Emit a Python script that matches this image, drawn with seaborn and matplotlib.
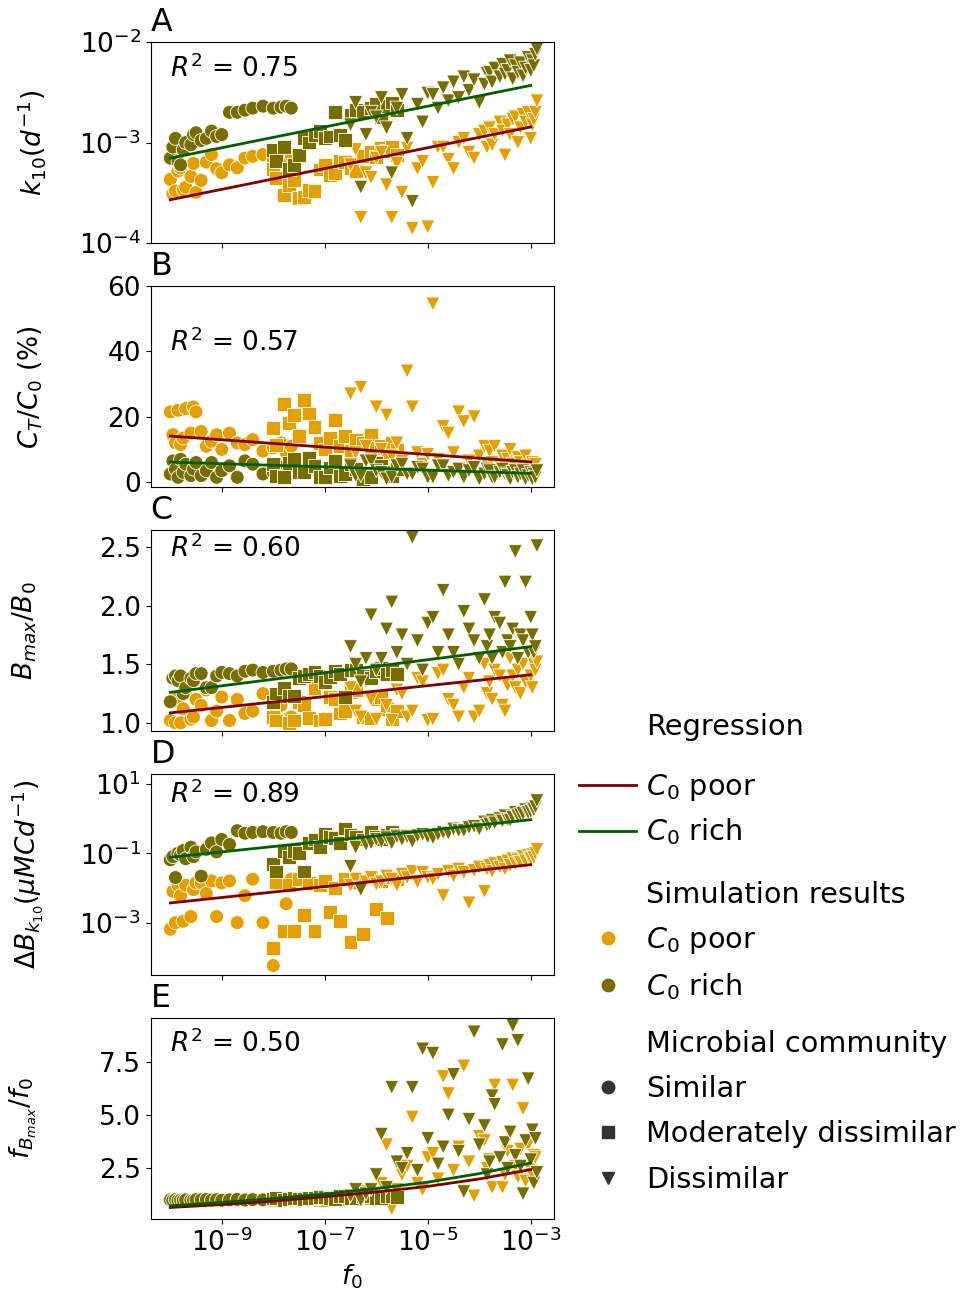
import numpy as np
import pandas as pd
import seaborn as sns
import matplotlib.pyplot as plt
from matplotlib.lines import Line2D
from matplotlib.ticker import NullLocator

POOR_COLOR = '#E69F00'
RICH_COLOR = '#786E00'
REG_POOR_COLOR = '#800000'
REG_RICH_COLOR = '#006000'
MARKERS = {'Similar': 'o', 'Moderately dissimilar': 's', 'Dissimilar': 'v'}

# log10(f0) of the simulations, grouped by microbial community
f0_exp_similar = [-10.0, -9.95, -9.9, -9.85, -9.8, -9.75, -9.7, -9.6, -9.55, -9.5, -9.4, -9.3,
                  -9.2, -9.1, -9.0, -8.85, -8.7, -8.55, -8.4, -8.2, -8.0, -7.85, -7.75, -7.65]
f0_exp_moderate = [-8.0, -7.95, -7.8, -7.7, -7.6, -7.5, -7.4, -7.3, -7.2, -7.1, -7.0, -6.9,
                   -6.8, -6.7, -6.6, -6.5, -6.4, -6.25, -6.1, -6.0, -5.9, -5.8, -5.7, -5.6]
f0_exp_dissimilar = [-6.5, -6.4, -6.3, -6.2, -6.1, -6.0, -5.9, -5.8, -5.7, -5.6, -5.5, -5.4,
                     -5.3, -5.2, -5.1, -5.0, -4.9, -4.8, -4.7, -4.6, -4.5, -4.4, -4.3, -4.2,
                     -4.1, -4.0, -3.9, -3.85, -3.8, -3.75, -3.7, -3.6, -3.55, -3.5, -3.45, -3.4,
                     -3.35, -3.3, -3.25, -3.2, -3.15, -3.1, -3.05, -3.0, -2.97, -2.94, -2.91, -2.88]

# panel A: k10 (1/d); order = similar (24), moderately dissimilar (24), dissimilar (48)
k10_poor = [4.3e-4, 3.1e-4, 3.3e-4, 5.2e-4, 5.6e-4, 3.4e-4, 3.6e-4, 4.6e-4, 6.2e-4, 3.2e-4, 4.2e-4, 6.4e-4,
            7.6e-4, 5.5e-4, 5.0e-4, 6.0e-4, 5.6e-4, 7.0e-4, 7.3e-4, 7.6e-4, 6.8e-4, 7.2e-4, 7.0e-4, 7.4e-4,
            5.5e-4, 4.4e-4, 3.0e-4, 3.8e-4, 4.2e-4, 2.8e-4, 2.9e-4, 3.4e-4, 3.3e-4, 5.4e-4, 6.0e-4, 4.8e-4,
            5.0e-4, 6.6e-4, 6.4e-4, 5.6e-4, 5.2e-4, 7.4e-4, 8.0e-4, 7.2e-4, 8.8e-4, 8.2e-4, 9.0e-4, 7.5e-4,
            6.0e-4, 8.5e-4, 1.8e-4, 5.0e-4, 4.5e-4, 7.0e-4, 8.0e-4, 3.8e-4, 1.8e-4, 6.2e-4, 3.2e-4, 8.8e-4,
            1.4e-4, 5.5e-4, 6.5e-4, 1.45e-4, 4.0e-4, 9.0e-4, 9.0e-4, 6.8e-4, 5.5e-4, 1.0e-3, 1.1e-3, 8.0e-4,
            7.0e-4, 1.2e-3, 1.3e-3, 9.0e-4, 1.4e-3, 9.5e-4, 1.2e-3, 1.6e-3, 1.3e-3, 7.5e-4, 1.5e-3, 1.2e-3,
            1.7e-3, 1.8e-3, 1.0e-3, 1.4e-3, 1.9e-3, 1.6e-3, 2.0e-3, 1.1e-3, 1.5e-3, 1.7e-3, 2.0e-3, 2.6e-3]
k10_rich = [7.0e-4, 9.0e-4, 1.1e-3, 6.5e-4, 6.0e-4, 8.5e-4, 1.0e-3, 9.5e-4, 1.2e-3, 1.25e-3, 1.05e-3, 1.1e-3,
            1.3e-3, 1.15e-3, 1.2e-3, 2.0e-3, 2.0e-3, 2.1e-3, 2.2e-3, 2.3e-3, 2.2e-3, 2.25e-3, 2.3e-3, 2.2e-3,
            8.5e-4, 6.5e-4, 9.0e-4, 5.5e-4, 6.0e-4, 7.5e-4, 1.1e-3, 1.0e-3, 1.2e-3, 1.3e-3, 1.1e-3, 1.15e-3,
            2.0e-3, 1.2e-3, 1.05e-3, 1.9e-3, 2.1e-3, 2.0e-3, 2.2e-3, 2.4e-3, 1.8e-3, 2.3e-3, 2.5e-3, 2.1e-3,
            1.5e-3, 2.5e-3, 3.6e-4, 1.2e-3, 2.0e-3, 1.8e-3, 2.8e-3, 1.4e-3, 5.0e-4, 2.2e-3, 3.0e-3, 1.1e-3,
            2.6e-4, 2.4e-3, 1.6e-3, 3.1e-3, 3.0e-3, 2.2e-3, 3.5e-3, 2.6e-3, 4.0e-3, 2.8e-3, 4.5e-3, 3.3e-3,
            4.2e-3, 2.5e-3, 3.8e-3, 4.9e-3, 5.0e-3, 4.0e-3, 5.5e-3, 4.5e-3, 6.0e-3, 4.8e-3, 5.2e-3, 6.5e-3,
            4.3e-3, 5.8e-3, 5.0e-3, 6.2e-3, 4.6e-3, 5.5e-3, 7.0e-3, 5.2e-3, 6.5e-3, 5.8e-3, 7.5e-3, 8.5e-3]

# panel B: C_T/C_0 (%)
ct_poor = [21.5, 14.5, 12.0, 22.0, 11.5, 13.5, 22.5, 15.0, 23.0, 21.5, 15.5, 11.0,
           12.5, 14.5, 10.0, 15.0, 12.0, 11.5, 13.0, 9.5, 10.5, 12.0, 9.0, 11.0,
           16.5, 11.5, 24.0, 18.0, 20.5, 14.0, 25.0, 21.0, 17.0, 12.0, 10.0, 13.5,
           19.0, 11.0, 14.0, 9.5, 13.0, 12.0, 14.5, 10.5, 11.0, 8.5, 12.0, 10.0,
           27.0, 9.0, 29.0, 11.0, 7.5, 23.0, 10.0, 20.5, 8.0, 12.0, 6.5, 34.0,
           23.0, 9.0, 5.5, 8.5, 54.5, 7.0, 17.0, 15.0, 9.0, 21.5, 18.5, 6.5,
           20.0, 8.0, 11.0, 5.5, 9.5, 6.0, 11.0, 5.0, 8.0, 4.5, 7.0, 10.0,
           5.5, 3.5, 7.5, 6.0, 4.5, 8.0, 5.0, 3.0, 6.0, 4.5, 5.5, 3.5]
ct_rich = [2.5, 6.5, 4.0, 1.5, 7.0, 3.0, 5.5, 2.0, 4.0, 6.0, 2.0, 3.5,
           6.0, 1.5, 3.5, 5.0, 1.5, 6.5, 5.5, 2.5, 3.0, 4.5, 1.5, 6.0,
           5.5, 2.0, 1.5, 6.0, 7.0, 3.0, 3.0, 7.5, 5.0, 1.5, 1.5, 4.5,
           6.5, 2.0, 2.5, 5.5, 4.0, 1.0, 1.5, 6.0, 5.0, 3.0, 2.0, 4.0,
           5.0, 2.0, 2.0, 6.5, 6.5, 3.5, 3.0, 1.0, 1.5, 5.0, 5.5, 2.5,
           2.5, 4.5, 4.0, 1.5, 1.5, 5.0, 5.0, 2.0, 3.0, 4.0, 1.5, 3.5,
           4.5, 1.0, 2.5, 4.0, 3.5, 1.5, 1.5, 3.0, 4.0, 2.5, 2.0, 1.0,
           3.0, 3.5, 1.5, 2.5, 3.5, 1.0, 2.0, 3.0, 1.0, 2.5, 1.5, 3.5]

# panel C: B_max/B_0
bmax_poor = [1.02, 1.18, 1.0, 1.22, 1.0, 1.12, 1.25, 1.03, 1.05, 1.2, 1.15, 1.28,
             1.02, 1.1, 1.22, 1.02, 1.2, 1.08, 1.1, 1.25, 1.05, 1.15, 1.03, 1.05,
             1.05, 1.02, 1.25, 1.0, 1.02, 1.18, 1.15, 1.04, 1.3, 1.02, 1.03, 1.22,
             1.2, 1.08, 1.1, 1.26, 1.28, 1.05, 1.04, 1.2, 1.22, 1.12, 1.03, 1.1,
             1.3, 1.1, 1.05, 1.35, 1.2, 1.03, 1.4, 1.15, 1.02, 1.28, 1.25, 1.05,
             1.1, 1.38, 1.35, 1.02, 1.03, 1.42, 1.45, 1.2, 1.15, 1.05, 1.3, 1.38,
             1.05, 1.1, 1.5, 1.25, 1.35, 1.2, 1.45, 1.4, 1.15, 1.1, 1.32, 1.55,
             1.4, 1.3, 1.45, 1.25, 1.5, 1.35, 1.6, 1.4, 1.3, 1.5, 1.45, 1.52]
bmax_rich = [1.18, 1.38, 1.4, 1.36, 1.4, 1.25, 1.3, 1.38, 1.36, 1.42, 1.42, 1.3,
             1.3, 1.4, 1.43, 1.42, 1.4, 1.44, 1.45, 1.43, 1.44, 1.45, 1.46, 1.46,
             1.18, 1.25, 1.3, 1.23, 1.23, 1.38, 1.4, 1.42, 1.43, 1.4, 1.35, 1.39,
             1.44, 1.42, 1.22, 1.45, 1.45, 1.4, 1.38, 1.44, 1.47, 1.42, 1.45, 1.42,
             1.65, 1.5, 1.35, 1.55, 1.92, 1.45, 1.55, 1.8, 2.03, 1.6, 1.75, 1.5,
             2.58, 1.7, 1.45, 1.85, 1.9, 1.6, 2.13, 1.75, 1.6, 1.5, 1.95, 1.8,
             1.7, 1.55, 2.05, 1.65, 1.75, 1.55, 1.9, 1.85, 1.6, 2.2, 1.7, 1.65,
             1.8, 2.46, 1.55, 1.75, 1.7, 2.2, 1.6, 1.9, 1.75, 1.6, 1.65, 2.51]

# panel D: Delta B_k10 (uMC/d)
dbk_poor = [6.5e-4, 8e-3, 1.0e-3, 1.2e-2, 6e-3, 1.1e-3, 1.2e-2, 1.5e-3, 9e-3, 1.4e-2, 1.4e-2, 7e-3,
            1.6e-2, 1.5e-3, 1.4e-2, 1.6e-2, 1.0e-3, 6e-3, 1.8e-2, 1.0e-3, 5.8e-5, 1.6e-2, 3.5e-3, 1.8e-2,
            1.9e-4, 1.5e-2, 5.8e-4, 1.2e-2, 5.8e-4, 1.8e-2, 1.7e-3, 1.4e-2, 5.8e-4, 1.2e-2, 1.6e-2, 2.0e-3,
            1.0e-2, 1.1e-3, 1.8e-2, 2.8e-4, 1.5e-2, 4.7e-4, 2.0e-2, 2.5e-3, 1.6e-2, 1.4e-3, 2.0e-2, 1.8e-2,
            0.012, 0.018, 0.01, 0.015, 0.02, 0.013, 0.015, 0.022, 0.018, 0.012, 0.025, 0.02,
            0.03, 0.015, 0.028, 0.02, 0.018, 0.025, 0.006, 0.03, 0.022, 0.035, 0.028, 0.0037,
            0.032, 0.04, 0.008, 0.035, 0.045, 0.03, 0.05, 0.04, 0.055, 0.035, 0.06, 0.045,
            0.07, 0.05, 0.065, 0.055, 0.08, 0.06, 0.085, 0.07, 0.09, 0.075, 0.1, 0.13]
dbk_rich = [0.065, 0.08, 0.02, 0.1, 0.09, 0.12, 0.07, 0.15, 0.08, 0.11, 0.022, 0.13,
            0.2, 0.11, 0.25, 0.18, 0.45, 0.38, 0.4, 0.42, 0.4, 0.38, 0.42, 0.4,
            0.05, 0.03, 0.12, 0.08, 0.12, 0.1, 0.03, 0.2, 0.25, 0.15, 0.37, 0.3,
            0.28, 0.2, 0.52, 0.35, 0.3, 0.25, 0.4, 0.3, 0.25, 0.35, 0.4, 0.35,
            0.042, 0.15, 0.009, 0.18, 0.2, 0.25, 0.22, 0.28, 0.2, 0.3, 0.25, 0.3,
            0.22, 0.32, 0.35, 0.3, 0.28, 0.35, 0.4, 0.38, 0.5, 0.45, 0.45, 0.55,
            0.6, 0.5, 0.8, 0.65, 0.7, 0.9, 0.75, 1.0, 0.85, 1.2, 0.95, 0.9,
            1.1, 1.5, 1.2, 1.3, 1.4, 1.8, 1.5, 1.6, 2.0, 1.8, 2.2, 3.3]

# panel E: f_Bmax/f_0
fb_poor = [1.0, 0.98, 1.02, 1.0, 0.97, 1.01, 1.0, 0.99, 1.02, 1.0, 1.01, 1.03,
           1.0, 0.98, 1.02, 1.0, 1.01, 1.0, 1.02, 0.99, 1.01, 1.03, 1.0, 1.02,
           1.05, 1.0, 1.1, 1.02, 1.0, 1.08, 1.08, 1.12, 1.12, 1.02, 1.02, 1.15,
           1.15, 1.05, 1.05, 1.18, 1.18, 1.1, 1.1, 1.2, 1.2, 1.08, 1.15, 1.08,
           1.0, 1.2, 1.3, 1.4, 1.1, 1.3, 1.8, 3.6, 0.6, 1.5, 2.2, 2.6,
           4.9, 1.8, 1.5, 3.0, 3.2, 2.0, 6.8, 6.0, 2.4, 3.5, 7.3, 2.8,
           1.2, 4.0, 3.8, 2.5, 2.9, 1.6, 6.4, 3.0, 1.6, 2.2, 3.3, 4.1,
           6.4, 2.6, 2.1, 3.4, 5.3, 1.9, 3.6, 2.4, 2.2, 3.1, 3.0, 2.3]
fb_rich = [1.02, 1.0, 1.03, 0.99, 1.01, 1.0, 1.02, 1.0, 1.01, 1.03, 1.02, 1.04,
           1.01, 1.03, 1.0, 1.02, 1.04, 1.01, 1.03, 1.02, 1.04, 1.03, 1.05, 1.04,
           1.08, 1.1, 1.02, 1.05, 1.12, 1.08, 1.05, 1.12, 1.1, 1.15, 1.15, 1.1,
           1.04, 1.18, 1.2, 1.08, 1.12, 1.2, 1.18, 1.1, 1.1, 1.2, 1.22, 1.15,
           1.2, 1.5, 1.0, 1.3, 1.5, 2.2, 4.1, 1.6, 6.3, 2.8, 2.5, 3.2,
           6.3, 2.4, 8.1, 3.9, 7.9, 2.7, 3.5, 5.0, 6.9, 3.3, 1.4, 4.8,
           8.9, 3.6, 4.5, 2.2, 2.8, 5.9, 5.5, 3.0, 8.3, 3.7, 2.5, 4.2,
           9.2, 3.1, 8.5, 2.6, 1.3, 3.8, 6.7, 2.9, 4.3, 1.8, 3.9, 2.3]

# regression lines
reg_f0_exp = [-10.0, -3.0]
reg_k10_poor, reg_k10_rich = [2.7e-4, 1.43e-3], [7.0e-4, 3.7e-3]
reg_ct_poor, reg_ct_rich = [14.1, 6.2], [6.15, 2.7]
reg_bmax_poor, reg_bmax_rich = [1.085, 1.41], [1.26, 1.65]
reg_dbk_poor, reg_dbk_rich = [3.7e-3, 0.047], [0.077, 0.93]
reg_fb_f0_exp = [-10.0, -9.0, -8.0, -7.0, -6.0, -5.0, -4.0, -3.0]
reg_fb_poor = [0.66, 0.80, 0.96, 1.17, 1.39, 1.65, 2.0, 2.44]
reg_fb_rich = [0.74, 0.90, 1.08, 1.29, 1.55, 1.85, 2.25, 2.75]

r2_values = ['0.75', '0.57', '0.60', '0.89', '0.50']


def sim_frame(poor, rich):
    f0_exp = f0_exp_similar + f0_exp_moderate + f0_exp_dissimilar
    community = (['Similar'] * len(f0_exp_similar)
                 + ['Moderately dissimilar'] * len(f0_exp_moderate)
                 + ['Dissimilar'] * len(f0_exp_dissimilar))
    parts = []
    for level, vals in (('C0 poor', poor), ('C0 rich', rich)):
        parts.append(pd.DataFrame({'f0': 10.0 ** np.array(f0_exp), 'value': vals,
                                   'C0': level, 'community': community}))
    return pd.concat(parts, ignore_index=True)


def add_legend(fig, handles, labels, top_px, spacing=0.55):
    fig.legend(handles, labels, loc='upper left',
               bbox_to_anchor=(0.576, 1 - top_px / 1292), frameon=False,
               fontsize=20.7, handlelength=2.0, handletextpad=0.35,
               labelspacing=spacing, borderpad=0.4)


def main():
    plt.rcParams['font.size'] = 19
    fig, axes = plt.subplots(5, 1, figsize=(9.6, 12.92), dpi=100, sharex=True)
    fig.subplots_adjust(left=0.157, right=0.577, top=0.9675, bottom=0.0565, hspace=0.213)

    panels = [
        ('A', r'$k_{10}(d^{-1})$', k10_poor, k10_rich, reg_f0_exp, reg_k10_poor, reg_k10_rich,
         'log', (1e-4, 1e-2), [1e-4, 1e-3, 1e-2], 0.824, -0.256),
        ('B', r'$C_T/C_0$ (%)', ct_poor, ct_rich, reg_f0_exp, reg_ct_poor, reg_ct_rich,
         'linear', (-1.5, 60), [0, 20, 40, 60], 0.675, -0.263),
        ('C', r'$B_{max}/B_0$', bmax_poor, bmax_rich, reg_f0_exp, reg_bmax_poor, reg_bmax_rich,
         'linear', (0.93, 2.645), [1.0, 1.5, 2.0, 2.5], 0.863, -0.278),
        ('D', r'$\Delta B_{k_{10}}(\mu MCd^{-1})$', dbk_poor, dbk_rich, reg_f0_exp, reg_dbk_poor,
         reg_dbk_rich, 'log', (10 ** -4.51, 10 ** 1.29), [1e-3, 1e-1, 1e1], 0.854, -0.26),
        ('E', r'$f_{B_{max}}/f_0$', fb_poor, fb_rich, reg_fb_f0_exp, reg_fb_poor, reg_fb_rich,
         'linear', (0.12, 9.56), [2.5, 5.0, 7.5], 0.828, -0.278),
    ]

    for ax, r2, (letter, ylabel, poor, rich, rx, rpoor, rrich, yscale, ylim, yticks, ty, lx) \
            in zip(axes, r2_values, panels):
        df = sim_frame(poor, rich)
        sns.scatterplot(data=df, x='f0', y='value', hue='C0', style='community',
                        palette={'C0 poor': POOR_COLOR, 'C0 rich': RICH_COLOR},
                        markers=MARKERS, s=100, edgecolor='white', linewidth=0.6,
                        legend=False, ax=ax)
        rf0 = 10.0 ** np.array(rx)
        sns.lineplot(x=rf0, y=rpoor, color=REG_POOR_COLOR, linewidth=2, ax=ax)
        sns.lineplot(x=rf0, y=rrich, color=REG_RICH_COLOR, linewidth=2, ax=ax)

        ax.set_xscale('log')
        ax.set_yscale(yscale)
        ax.set_xlim(10 ** -10.38, 10 ** -2.55)
        ax.set_ylim(*ylim)
        ax.set_yticks(yticks)
        ax.yaxis.set_minor_locator(NullLocator())
        ax.set_title(letter, loc='left', pad=8)
        ax.set_ylabel(ylabel)
        ax.yaxis.set_label_coords(lx, 0.5)
        ax.set_xlabel('')
        ax.text(0.047, ty, rf'$R^2$ = {r2}', transform=ax.transAxes, va='baseline')

    axes[-1].set_xticks([1e-9, 1e-7, 1e-5, 1e-3])
    axes[-1].xaxis.set_minor_locator(NullLocator())
    axes[-1].set_xlabel(r'$f_0$')

    blank = Line2D([], [], linestyle='none', marker='')
    add_legend(fig, [blank], ['Regression'], 687)
    add_legend(fig, [Line2D([], [], color=REG_POOR_COLOR, linewidth=2),
                     Line2D([], [], color=REG_RICH_COLOR, linewidth=2)],
               [r'$C_0$ poor', r'$C_0$ rich'], 746, spacing=0.48)
    add_legend(fig, [blank,
                     Line2D([], [], linestyle='none', marker='o', color=POOR_COLOR, markersize=9),
                     Line2D([], [], linestyle='none', marker='o', color=RICH_COLOR, markersize=9)],
               ['Simulation results', r'$C_0$ poor', r'$C_0$ rich'], 855)
    add_legend(fig, [blank,
                     Line2D([], [], linestyle='none', marker='o', color='.2', markersize=9),
                     Line2D([], [], linestyle='none', marker='s', color='.2', markersize=9),
                     Line2D([], [], linestyle='none', marker='v', color='.2', markersize=9)],
               ['Microbial community', 'Similar', 'Moderately dissimilar', 'Dissimilar'], 1004,
               spacing=0.6)

    fig.savefig('out.png', dpi=100)


if __name__ == '__main__':
    main()
